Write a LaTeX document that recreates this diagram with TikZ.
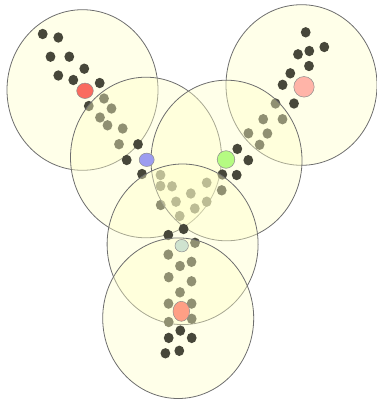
\documentclass[tikz,border=0pt]{standalone}
\usepackage{tikz}
\definecolor{cRingF}{HTML}{FFFFC8}
\definecolor{cRingD}{HTML}{6E6E6E}
\definecolor{cDotD}{HTML}{47473A}
\definecolor{cCtrD}{HTML}{8C8C8C}
\definecolor{cRedF}{HTML}{FA6B5F}
\definecolor{cBlueF}{HTML}{9C9CF0}
\definecolor{cPinkF}{HTML}{FFB4A8}
\definecolor{cLimeF}{HTML}{B5FB82}
\definecolor{cMintF}{HTML}{CFE3CF}
\definecolor{cSalmF}{HTML}{FF9F85}
\tikzset{
  ring/.style  = {draw=cRingD, line width=0.8pt, fill=cRingF, fill opacity=0.4},
  datum/.style = {fill=cDotD},
  ctr/.style   = {draw=cCtrD, line width=0.5pt},
}
\newcommand{\ringat}[2]{\path[ring] (#1,#2) ellipse [x radius=75.5, y radius=80.3];}

\begin{document}
\begin{tikzpicture}[x=1pt, y=-1pt]
  \useasboundingbox (0,0) rectangle (377,399);
  % group 1, top left
  \ringat{82.5}{90}
  \foreach \x/\y in {42.7/34, 58.3/37.5, 50.5/56.7, 69.3/56.7, 84.3/68.7, 58.3/75.5,
      73.3/80, 99.7/83, 88.8/106, 104/98.5, 111.5/108.5, 100/117.5, 107.5/125.3,
      122.7/128.5, 119/144.2}
    \fill[datum] (\x,\y) ellipse [x radius=4.9, y radius=5.2];
  % group 2
  \ringat{146}{157.5}
  \foreach \x/\y in {138/144.3, 126.7/160, 142/174, 160.5/175, 160.5/186, 172/186.3,
      206.7/182.7, 190.8/193.5, 176/201.7, 160.7/205, 194.8/208.5, 206.7/201.7,
      179.7/216}
    \fill[datum] (\x,\y) ellipse [x radius=4.9, y radius=5.2];
  % group 3, top right
  \ringat{301.5}{85}
  \foreach \x/\y in {305.7/32.3, 324.3/47, 309.3/51, 298/54.3, 309/66, 290.3/73.3,
      282.6/84.8, 294/103.5, 275.5/103.5, 263.2/119.2, 282.5/119.2, 248.4/133.3,
      267.4/133.5, 259.6/144.8}
    \fill[datum] (\x,\y) ellipse [x radius=4.9, y radius=5.2];
  % group 4
  \ringat{226.5}{160.5}
  \foreach \x/\y in {222.3/174.5, 236.7/175, 221.7/190.3, 237.3/148.9, 248.3/160.2}
    \fill[datum] (\x,\y) ellipse [x radius=4.9, y radius=5.2];
  % group 5
  \ringat{182.6}{244.3}
  \foreach \x/\y in {183.6/229, 168.3/235, 195/242.8, 168.3/254.6, 180/266, 191.5/261.8,
      168.7/277.2, 191.5/281.3, 180/292.3, 168.5/303.6, 191.6/303.6, 191.7/318.8,
      168.7/322}
    \fill[datum] (\x,\y) ellipse [x radius=4.9, y radius=5.2];
  % group 6, bottom
  \ringat{178.2}{318.2}
  \foreach \x/\y in {180.3/330.6, 168.7/337.9, 191.7/337.9, 165.4/353.3, 179.3/350.8}
    \fill[datum] (\x,\y) ellipse [x radius=4.9, y radius=5.2];
  % centres
  \filldraw[ctr, fill=cRedF]  (85,90.8)    ellipse [x radius=8.3, y radius=7.7];
  \filldraw[ctr, fill=cBlueF] (146.7,159.8) ellipse [x radius=7.5, y radius=6.7];
  \filldraw[ctr, fill=cPinkF] (304,86.8)   ellipse [x radius=10.2, y radius=10.3];
  \filldraw[ctr, fill=cLimeF] (226,159.5)  ellipse [x radius=8.8, y radius=8.8];
  \filldraw[ctr, fill=cMintF] (181.7,245.7) ellipse [x radius=6.7, y radius=6.2];
  \filldraw[ctr, fill=cSalmF] (181.3,311.3) ellipse [x radius=8.3, y radius=10];
\end{tikzpicture}
\end{document}
